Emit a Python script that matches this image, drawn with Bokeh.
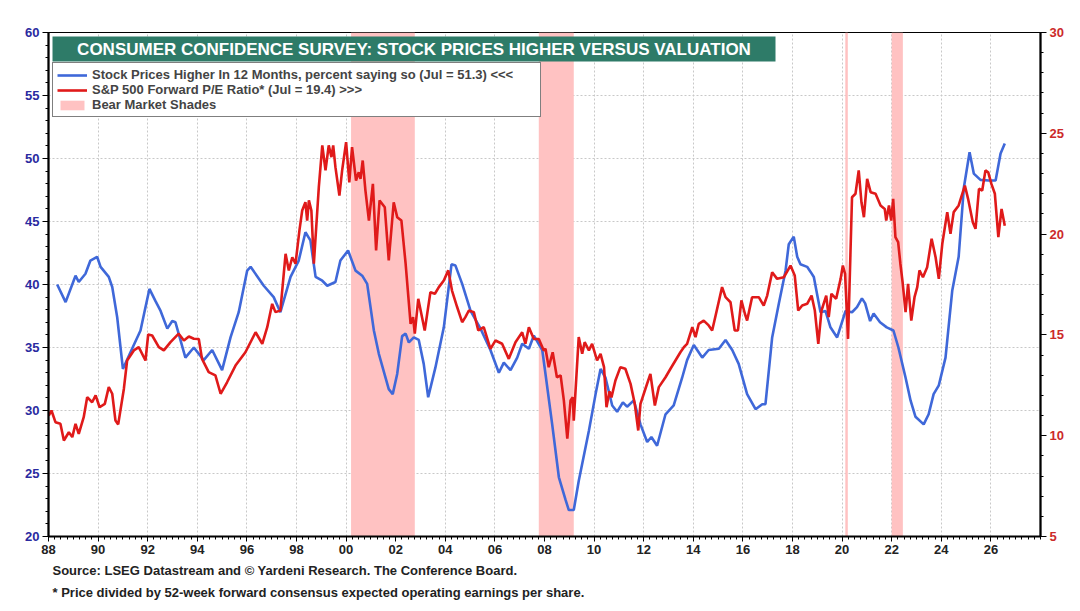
import numpy as np
from bokeh.plotting import figure
from bokeh.models import (Range1d, LinearAxis, FixedTicker, BoxAnnotation, Label,
                          Title, Legend, LegendItem, ColumnDataSource)
from bokeh.embed import file_html
from bokeh.resources import INLINE

# ---------------- data ----------------
blue_x = [1988.35, 1988.69, 1989.09, 1989.22, 1989.49, 1989.69, 1989.96, 1990.10, 1990.43, 1990.57,
          1990.77, 1991.00, 1991.37, 1991.71, 1991.91, 1992.07, 1992.31, 1992.52, 1992.79, 1992.99,
          1993.12, 1993.52, 1993.86, 1994.26, 1994.60, 1995.00, 1995.34, 1995.67, 1996.01, 1996.15,
          1996.68, 1997.08, 1997.35, 1997.76, 1998.09, 1998.36, 1998.56, 1998.77, 1999.04, 1999.24,
          1999.57, 1999.77, 2000.08, 2000.38, 2000.65, 2000.85, 2001.12, 2001.32, 2001.72, 2001.88,
          2002.06, 2002.26, 2002.40, 2002.53, 2002.73, 2002.93, 2003.13, 2003.31, 2003.60, 2003.94,
          2004.25, 2004.41, 2004.68, 2005.02, 2005.42, 2005.82, 2006.16, 2006.36, 2006.63, 2006.90,
          2007.10, 2007.37, 2007.57, 2007.91, 2008.04, 2008.31, 2008.58, 2008.85, 2008.98, 2009.18,
          2009.38, 2009.79, 2010.06, 2010.26, 2010.46, 2010.73, 2010.93, 2011.16, 2011.33, 2011.60,
          2011.87, 2012.14, 2012.31, 2012.54, 2012.88, 2013.21, 2013.55, 2013.75, 2014.02, 2014.36,
          2014.62, 2015.03, 2015.30, 2015.57, 2015.83, 2016.17, 2016.51, 2016.78, 2016.91, 2017.18,
          2017.45, 2017.72, 2017.85, 2018.05, 2018.19, 2018.32, 2018.59, 2018.73, 2018.86, 2019.13,
          2019.33, 2019.53, 2019.80, 2020.14, 2020.40, 2020.60, 2020.80, 2020.93, 2021.13, 2021.27,
          2021.53, 2021.80, 2022.07, 2022.27, 2022.56, 2022.76, 2022.96, 2023.29, 2023.49, 2023.69,
          2023.90, 2024.17, 2024.44, 2024.70, 2024.91, 2025.14, 2025.31, 2025.58, 2025.92, 2026.19,
          2026.39, 2026.56]
blue_y = [40.0, 38.6, 40.7, 40.2, 40.85, 41.9, 42.2, 41.4, 40.6, 39.8,
          37.4, 33.3, 34.9, 36.35, 38.2, 39.65, 38.7, 37.9, 36.5, 37.1,
          37.0, 34.2, 35.0, 34.0, 34.8, 33.2, 35.8, 37.8, 41.1, 41.4,
          39.9, 39.0, 37.8, 40.6, 41.9, 44.15, 43.5, 40.6, 40.3, 39.9,
          40.2, 41.9, 42.7, 41.1, 40.7, 40.05, 36.35, 34.5, 31.7, 31.3,
          32.9, 35.9, 36.1, 35.4, 35.8, 35.6, 33.7, 31.05, 33.4, 36.6,
          41.6, 41.5, 40.05, 37.9, 36.5, 34.8, 33.0, 33.8, 33.2, 34.2,
          35.3, 34.9, 35.95, 34.8, 32.9, 28.9, 24.7, 22.9, 22.1, 22.1,
          24.4, 28.4, 31.3, 33.3, 32.6, 30.4, 29.9, 30.65, 30.3, 30.8,
          28.9, 27.5, 27.9, 27.2, 29.7, 30.4, 32.6, 34.0, 35.2, 34.2,
          34.8, 34.9, 35.6, 34.8, 33.7, 31.3, 30.1, 30.5, 30.5, 35.8,
          38.5, 41.1, 43.2, 43.8, 42.2, 41.6, 41.4, 41.0, 40.6, 37.8,
          37.9, 36.6, 35.8, 37.9, 37.8, 38.2, 38.9, 38.5, 37.1, 37.7,
          37.0, 36.6, 36.35, 35.0, 32.6, 30.8, 29.5, 28.9, 29.7, 31.3,
          32.0, 34.2, 39.5, 42.2, 47.7, 50.5, 48.8, 48.3, 48.25, 48.25,
          50.4, 51.2]

red_x = [1988.01, 1988.12, 1988.28, 1988.48, 1988.62, 1988.82, 1988.96, 1989.09, 1989.22, 1989.42,
         1989.56, 1989.76, 1989.90, 1990.06, 1990.27, 1990.43, 1990.57, 1990.70, 1990.81, 1991.04,
         1991.17, 1991.44, 1991.64, 1991.91, 1992.02, 1992.18, 1992.45, 1992.65, 1992.92, 1993.25,
         1993.46, 1993.66, 1993.86, 1994.06, 1994.19, 1994.46, 1994.73, 1994.94, 1995.20, 1995.54,
         1995.94, 1996.35, 1996.62, 1996.82, 1997.02, 1997.15, 1997.35, 1997.56, 1997.69, 1997.83,
         1997.96, 1998.12, 1998.23, 1998.36, 1998.43, 1998.50, 1998.60, 1998.70, 1998.90, 1999.04,
         1999.17, 1999.30, 1999.41, 1999.48, 1999.57, 1999.73, 1999.84, 2000.00, 2000.13, 2000.24,
         2000.40, 2000.51, 2000.58, 2000.67, 2000.78, 2000.92, 2001.08, 2001.21, 2001.35, 2001.56,
         2001.72, 2001.92, 2002.06, 2002.23, 2002.40, 2002.60, 2002.70, 2002.77, 2002.91, 2003.17,
         2003.40, 2003.58, 2003.74, 2003.94, 2004.12, 2004.27, 2004.48, 2004.68, 2004.81, 2004.95,
         2005.15, 2005.33, 2005.55, 2005.82, 2006.02, 2006.29, 2006.56, 2006.83, 2007.10, 2007.23,
         2007.37, 2007.57, 2007.77, 2007.97, 2008.04, 2008.17, 2008.33, 2008.50, 2008.65, 2008.78,
         2008.92, 2009.05, 2009.14, 2009.18, 2009.38, 2009.52, 2009.62, 2009.79, 2009.92, 2010.12,
         2010.26, 2010.40, 2010.50, 2010.62, 2010.70, 2010.86, 2011.06, 2011.26, 2011.47, 2011.64,
         2011.78, 2011.87, 2012.07, 2012.27, 2012.45, 2012.61, 2012.88, 2013.08, 2013.28, 2013.48,
         2013.62, 2013.75, 2013.96, 2014.09, 2014.22, 2014.42, 2014.62, 2014.76, 2014.90, 2015.16,
         2015.30, 2015.50, 2015.67, 2015.80, 2015.94, 2016.08, 2016.17, 2016.37, 2016.64, 2016.84,
         2016.98, 2017.18, 2017.38, 2017.65, 2017.92, 2018.09, 2018.23, 2018.39, 2018.59, 2018.77,
         2018.90, 2019.04, 2019.17, 2019.36, 2019.46, 2019.57, 2019.76, 2019.94, 2020.03, 2020.12,
         2020.24, 2020.40, 2020.54, 2020.67, 2020.78, 2020.88, 2021.01, 2021.15, 2021.35, 2021.55,
         2021.72, 2021.78, 2021.89, 2021.98, 2022.06, 2022.15, 2022.26, 2022.35, 2022.44, 2022.56,
         2022.66, 2022.79, 2022.92, 2023.03, 2023.12, 2023.26, 2023.43, 2023.61, 2023.77, 2023.90,
         2024.04, 2024.24, 2024.37, 2024.50, 2024.70, 2024.95, 2025.08, 2025.27, 2025.38, 2025.52,
         2025.65, 2025.78, 2025.89, 2026.02, 2026.16, 2026.30, 2026.43, 2026.56]
red_y = [11.0, 11.25, 10.67, 10.59, 9.76, 10.17, 9.93, 10.59, 10.09, 10.92,
         11.91, 11.66, 12.0, 11.41, 11.58, 12.41, 12.08, 10.75, 10.56, 12.33,
         13.73, 14.23, 14.39, 13.73, 15.02, 14.97, 14.39, 14.23, 14.64, 15.06,
         14.72, 14.92, 14.81, 14.8, 13.81, 13.15, 12.99, 12.08, 12.65, 13.48,
         14.14, 15.13, 14.56, 15.38, 16.54, 16.13, 16.21, 19.02, 18.2, 18.85,
         18.53, 20.2, 21.17, 21.58, 20.67, 21.67, 21.17, 18.53, 22.33, 24.4,
         23.16, 24.4, 23.82, 24.4, 23.32, 21.91, 23.16, 24.56, 22.57, 24.31,
         22.66, 23.07, 22.74, 23.65, 22.16, 20.67, 22.49, 19.19, 21.67, 21.33,
         18.69, 21.58, 20.84, 20.67, 18.53, 15.55, 15.88, 15.06, 16.79, 15.22,
         17.12, 17.04, 17.37, 17.7, 18.2, 17.2, 16.37, 15.63, 15.88, 16.21,
         16.13, 15.22, 15.38, 14.31, 14.72, 14.56, 13.81, 14.64, 15.13, 14.56,
         15.38, 14.8, 14.8, 14.23, 14.31, 13.4, 14.14, 12.9, 12.99, 11.75,
         9.85, 11.75, 11.91, 10.75, 14.89, 14.06, 14.64, 14.23, 14.56, 13.73,
         14.06, 13.4, 11.41, 12.2, 11.9, 12.74, 13.4, 13.32, 12.57, 11.58,
         10.26, 11.58, 12.33, 13.07, 11.5, 12.41, 12.9, 13.32, 13.73, 14.14,
         14.39, 14.56, 15.38, 14.89, 15.55, 15.71, 15.47, 15.22, 15.96, 17.37,
         16.87, 16.62, 15.22, 15.22, 16.71, 16.05, 15.71, 16.87, 16.87, 16.46,
         16.95, 18.11, 17.78, 17.86, 18.44, 17.95, 16.21, 16.46, 16.54, 16.95,
         16.21, 14.56, 16.21, 16.95, 15.88, 17.04, 16.79, 17.78, 18.44, 18.03,
         14.8, 21.83, 22.0, 23.16, 21.58, 20.84, 22.74, 22.08, 22.0, 21.42,
         21.25, 20.67, 21.42, 20.67, 21.75, 19.85, 19.6, 18.53, 17.61, 16.13,
         17.53, 15.71, 16.87, 17.37, 18.2, 17.86, 18.36, 19.77, 18.85, 17.78,
         19.52, 21.09, 20.01, 21.09, 21.42, 22.41, 21.75, 20.59, 20.26, 22.25,
         22.16, 23.16, 23.07, 22.49, 22.0, 19.85, 21.25, 20.42]

shade_start = [2000.20, 2007.77, 2020.13, 2022.00]
shade_end = [2002.77, 2009.18, 2020.23, 2022.45]

x_ticks = list(range(1988, 2027, 2))
x_tick_labels = ["88", "90", "92", "94", "96", "98", "00", "02", "04", "06",
                 "08", "10", "12", "14", "16", "18", "20", "22", "24", "26"]
left_ticks = [20, 25, 30, 35, 40, 45, 50, 55, 60]
right_ticks = [5, 10, 15, 20, 25, 30]

title_text = "CONSUMER CONFIDENCE SURVEY: STOCK PRICES HIGHER VERSUS VALUATION"
blue_label = "Stock Prices Higher In 12 Months, percent saying so (Jul = 51.3) <<<"
red_label = "S&P 500 Forward P/E Ratio* (Jul = 19.4) >>>"
shade_label = "Bear Market Shades"
source_text = "Source: LSEG Datastream and \u00a9 Yardeni Research. The Conference Board."
note_text = "* Price divided by 52-week forward consensus expected operating earnings per share."

# ---------------- styles ----------------
BLUE = "#3f68d9"
RED = "#e01a1a"
PINK = "#ffc2c2"
GREEN = "#2e7b68"
FONT = "Liberation Sans"

p = figure(frame_width=992, frame_height=504,
           x_range=Range1d(1988, 2028), y_range=Range1d(20, 60),
           output_backend="svg", toolbar_location=None,
           min_border_left=48, min_border_right=32, min_border_top=32, min_border_bottom=40,
           background_fill_color="white", border_fill_color="white")
p.extra_y_ranges = {"pe": Range1d(5, 30)}
p.outline_line_color = "black"
p.outline_line_width = 1.2

# grids
p.xgrid.ticker = FixedTicker(ticks=x_ticks)
p.ygrid.ticker = FixedTicker(ticks=left_ticks)
for g in (p.xgrid, p.ygrid):
    g.grid_line_color = "#c8c8c8"
    g.grid_line_dash = "2 2"
    g.grid_line_width = 1

# shades
shade_src = ColumnDataSource(dict(left=shade_start, right=shade_end))
shades = p.quad(left="left", right="right", bottom=20, top=60, source=shade_src,
                fill_color=PINK, line_color=None, fill_alpha=1.0)

# lines
blue_r = p.line(blue_x, blue_y, line_color=BLUE, line_width=2.6)
red_r = p.line(red_x, red_y, line_color=RED, line_width=2.6, y_range_name="pe")

# axes
xa = p.xaxis[0]
xa.ticker = FixedTicker(ticks=x_ticks, minor_ticks=list(np.arange(1988, 2028.01, 0.25)))
xa.major_label_overrides = {t: lab for t, lab in zip(x_ticks, x_tick_labels)}
xa.major_label_text_font = FONT
xa.major_label_text_font_size = "13px"
xa.major_label_text_font_style = "bold"
xa.major_label_text_color = "#222222"
xa.axis_line_width = 2.2
xa.axis_line_color = "black"
xa.major_tick_out = 5
xa.major_tick_in = 0
xa.minor_tick_out = 3
xa.minor_tick_in = 0
xa.major_label_standoff = 3

ya = p.yaxis[0]
ya.ticker = FixedTicker(ticks=left_ticks, minor_ticks=list(range(20, 61)))
ya.major_label_text_color = "#2a2aa0"
ya.major_label_text_font = FONT
ya.major_label_text_font_style = "bold"
ya.major_label_text_font_size = "13px"
ya.axis_line_width = 2.2
ya.major_tick_out = 6
ya.major_tick_in = 0
ya.minor_tick_out = 3
ya.minor_tick_in = 0
ya.major_label_standoff = 3

ra = LinearAxis(y_range_name="pe", ticker=FixedTicker(ticks=right_ticks, minor_ticks=list(range(5, 31))))
ra.major_label_text_color = "#cc2a2a"
ra.major_label_text_font = FONT
ra.major_label_text_font_style = "bold"
ra.major_label_text_font_size = "13px"
ra.axis_line_width = 2.2
ra.major_tick_out = 6
ra.major_tick_in = 0
ra.minor_tick_out = 3
ra.minor_tick_in = 0
ra.major_label_standoff = 3
p.add_layout(ra, "right")

# title box
px_x = 40.0 / 992
px_y = 40.0 / 504
title_box = BoxAnnotation(left=1988 + 4 * px_x, right=1988 + 727 * px_x,
                          top=60 - 4 * px_y, bottom=60 - 29 * px_y,
                          fill_color=GREEN, fill_alpha=1.0, line_color=None, level="overlay")
p.add_layout(title_box)
p.add_layout(Label(x=1988 + 365.5 * px_x, y=60 - 16.5 * px_y, text=title_text,
                   text_color="white", text_font=FONT, text_font_style="bold",
                   text_font_size="17px", text_align="center", text_baseline="middle",
                   level="overlay"))

# legend
legend = Legend(items=[LegendItem(label=blue_label, renderers=[blue_r]),
                       LegendItem(label=red_label, renderers=[red_r]),
                       LegendItem(label=shade_label, renderers=[shades])],
                location=(4, 419), border_line_color="black", border_line_width=1.5,
                background_fill_color="white", background_fill_alpha=1.0,
                label_text_font=FONT, label_text_font_style="bold",
                label_text_font_size="13px", label_height=13, glyph_height=12,
                label_width=444, glyph_width=30, label_standoff=5, spacing=0,
                padding=4, margin=0)
p.add_layout(legend)

# source notes
t1 = Title(text=source_text, align="left", text_font=FONT, text_font_style="bold",
           text_font_size="13px", text_color="#222222", offset=4, standoff=9)
t2 = Title(text=note_text, align="left", text_font=FONT, text_font_style="bold",
           text_font_size="13px", text_color="#222222", offset=4, standoff=1)
p.add_layout(t1, "below")
p.add_layout(t2, "below")

open("out.html", "w").write(file_html(p, INLINE))
